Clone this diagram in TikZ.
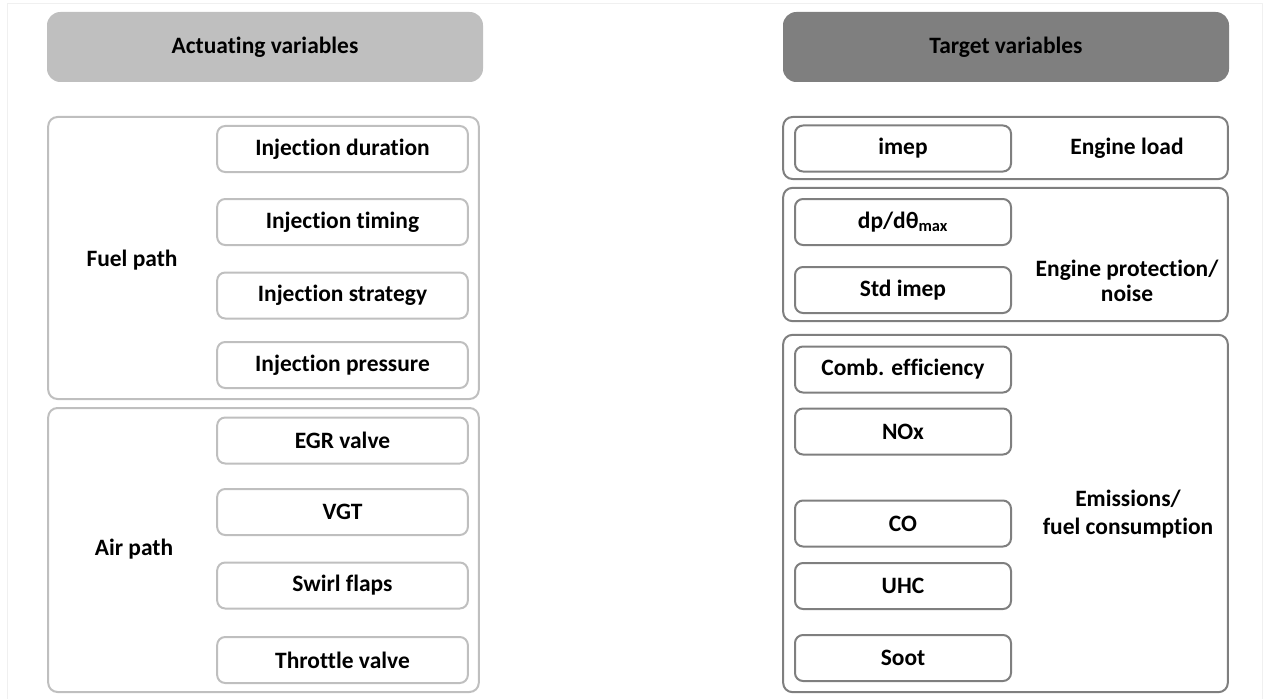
\documentclass[tikz,border=0pt]{standalone}
\usepackage{fontspec}
\setmainfont{Carlito}[Ligatures=NoCommon]
\usetikzlibrary{positioning}
\definecolor{lgray}{HTML}{BFBFBF}
\definecolor{dgray}{HTML}{7F7F7F}
\begin{document}
\begin{tikzpicture}[x=0.75pt,y=-0.75pt, line join=round,
    font=\fontsize{17.6}{21}\selectfont\bfseries,
    head/.style={rounded corners=10pt, minimum height=52.5pt},
    grp/.style={draw, line width=1.5pt, rounded corners=7pt},
    item/.style={draw, line width=1.5pt, rounded corners=6pt, minimum height=34.5pt},
    lab/.style={align=center}]
    \useasboundingbox (0,0) rectangle (1272,699);
    % thin page frame
    \draw[gray!12, line width=0.6pt] (7,699) -- (7,3) -- (1262,3) -- (1262,699);
    % headers
    \node[head, fill=lgray, minimum width=327pt] (acth) at (265,47) {Actuating variables};
    \node[head, fill=dgray, minimum width=334.5pt] (tgth) at (1006,47) {Target variables};
    % actuating side
    \node[grp, draw=lgray, minimum width=323pt, minimum height=211.5pt] (fuel) at (263.5,258) {};
    \node[grp, draw=lgray, minimum width=323pt, minimum height=213pt] (air) at (263.5,550) {};
    \node[lab] (fuell) at (132,260) {Fuel path};
    \node[lab] (airl) at (134,549) {Air path};
    \foreach \n/\y/\t in {id/149/Injection duration, it/222/Injection timing,
        is/295.5/Injection strategy, ip/365/Injection pressure,
        egr/440.5/EGR valve, vgt/512/VGT, sf/585.5/Swirl flaps, tv/660/Throttle valve}
        \node[item, draw=lgray, minimum width=188pt] (\n) at (342.5,\y) {\t};
    % target side
    \node[grp, draw=dgray, minimum width=333.5pt, minimum height=46.5pt] (load) at (1005.5,148) {};
    \node[grp, draw=dgray, minimum width=333.5pt, minimum height=100pt] (prot) at (1005.5,254.5) {};
    \node[grp, draw=dgray, minimum width=333.5pt, minimum height=268pt] (emis) at (1005.5,513.5) {};
    \node[lab] (loadl) at (1127,148) {Engine load};
    \node[lab] (protl) at (1127,281) {Engine protection/\\[-2pt]noise};
    \node[lab] (emisl) at (1128,514) {Emissions/\\fuel consumption};
    \foreach \n/\y/\t in {imep/148.5/imep, dpdt/222/{dp/dθ\textsubscript{max}},
        sdimep/290/Std imep, comb/369.5/Comb. efficiency, nox/431.5/NOx,
        co/523.5/CO, uhc/586/UHC, soot/658/Soot}
        \node[item, draw=dgray, minimum width=162pt] (\n) at (903,\y) {\t};
\end{tikzpicture}
\end{document}
